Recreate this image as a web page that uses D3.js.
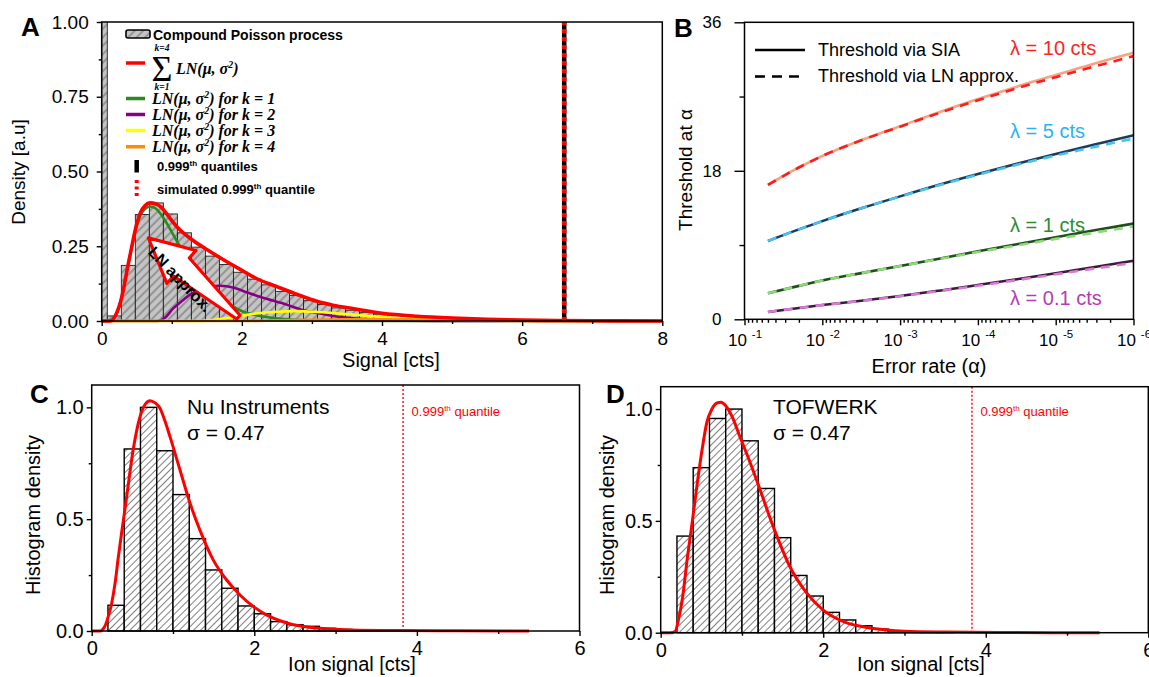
<!DOCTYPE html>
<html><head><meta charset="utf-8">
<script src="https://cdn.jsdelivr.net/npm/d3@7/dist/d3.min.js"></script>
<style>
body{margin:0;background:#fff}
svg{display:block}
</style></head><body>
<svg id="chart" width="1149" height="677"></svg>
<script>
// ================= DATA =================
// Panel A: compound Poisson histogram (bin centres, width 0.2)
const binCentersA = [-0.02,0.18,0.38,0.58,0.78,0.98,1.18,1.38,1.58,1.78,1.98,2.18,2.38,2.58,2.78,2.98,3.18,3.38,3.58,3.78,3.98,4.18,4.38,4.58,4.78,4.98,5.18,5.38,5.58,5.78,5.98,6.18,6.38];
const densityA = [1.84,0.017,0.186,0.356,0.395,0.358,0.295,0.247,0.217,0.189,0.163,0.14,0.121,0.099,0.085,0.068,0.055,0.044,0.036,0.029,0.023,0.018,0.014,0.011,0.008,0.006,0.005,0.004,0.003,0.002,0.0015,0.001,0.0008];
const binWidthA = 0.2;
const curveSumA = [[0,0],[0.12,0],[0.17,0.008],[0.22,0.03],[0.27,0.065],[0.31,0.106],[0.37,0.18],[0.43,0.25],[0.49,0.315],[0.55,0.361],[0.62,0.386],[0.69,0.395],[0.77,0.392],[0.86,0.378],[0.97,0.345],[1.09,0.311],[1.3,0.27],[1.5,0.239],[1.75,0.203],[1.98,0.172],[2.2,0.143],[2.5,0.115],[2.8,0.088],[3.07,0.066],[3.3,0.053],[3.6,0.041],[4.0,0.026],[4.5,0.016],[5.0,0.01],[5.5,0.006],[6.0,0.003],[6.5,0.0015],[7.0,0.0007],[8.0,0]];
const curveK1A = [[0,0],[0.12,0],[0.17,0.008],[0.22,0.03],[0.27,0.065],[0.31,0.105],[0.37,0.178],[0.43,0.247],[0.49,0.31],[0.55,0.352],[0.62,0.375],[0.69,0.383],[0.77,0.376],[0.86,0.352],[0.97,0.31],[1.09,0.26],[1.26,0.2],[1.45,0.135],[1.69,0.079],[1.98,0.035],[2.3,0.015],[2.7,0.005],[3.2,0.001],[4,0],[8,0]];
const curveK2A = [[0,0],[0.8,0],[0.9,0.01],[1.02,0.042],[1.15,0.068],[1.26,0.088],[1.45,0.11],[1.69,0.118],[1.9,0.11],[2.07,0.096],[2.3,0.078],[2.6,0.058],[2.88,0.036],[3.07,0.027],[3.3,0.017],[3.55,0.01],[3.9,0.004],[4.3,0.001],[4.8,0],[8,0]];
const curveK3A = [[0,0],[1.4,0],[1.6,0.004],[1.8,0.01],[2.0,0.017],[2.2,0.025],[2.5,0.031],[2.75,0.033],[3.0,0.031],[3.3,0.027],[3.6,0.021],[4.0,0.013],[4.5,0.007],[5.0,0.003],[5.5,0.001],[6,0],[8,0]];
const curveK4A = [[0,0],[2.0,0],[2.5,0.002],[3.0,0.004],[3.5,0.006],[4.0,0.006],[4.5,0.005],[5.0,0.003],[5.5,0.002],[6,0.001],[6.5,0],[8,0]];
const quantileA = 6.6;
const simQuantileA = 6.6;
const xTicksA = [0,2,4,6,8];
const yTicksA = [0,0.25,0.5,0.75,1];

// Panel B: thresholds vs error rate (alpha = 10^-1.3 ... 10^-6)
const alphaB = [0.05,0.02,0.01,0.00316,0.001,0.000316,1e-4,3.16e-5,1e-5,3.16e-6,1e-6];
const sia10 = [16.3,18.4,19.8,21.7,23.4,25.1,26.7,28.2,29.6,31.0,32.3];
const ln10  = [16.3,18.4,19.8,21.7,23.35,25.0,26.55,28.0,29.35,30.65,31.9];
const sia5  = [9.5,10.9,11.9,13.45,14.9,16.3,17.6,18.85,20.05,21.2,22.3];
const ln5   = [9.5,10.9,11.9,13.45,14.88,16.25,17.52,18.72,19.85,20.9,21.9];
const sia1  = [3.15,4.05,4.7,5.6,6.45,7.35,8.25,9.1,9.95,10.8,11.6];
const ln1   = [3.15,4.05,4.7,5.6,6.45,7.3,8.15,8.95,9.75,10.5,11.25];
const sia01 = [0.88,1.38,1.73,2.25,2.82,3.47,4.16,4.86,5.58,6.33,7.1];
const ln01  = [0.88,1.38,1.72,2.23,2.79,3.42,4.07,4.75,5.45,6.15,6.85];
const xTicksB = [1e-1,1e-2,1e-3,1e-4,1e-5,1e-6];
const yTicksB = [0,18,36];

// Panels C & D: measured ion-signal histograms (bin left edges, width 0.2)
const binWidthCD = 0.2;
const binLeftC = [0.2,0.4,0.6,0.8,1.0,1.2,1.4,1.6,1.8,2.0,2.2,2.4,2.6,2.8,3.0,3.2,3.4,3.6,3.8];
const densC = [0.115,0.814,1.0,0.806,0.61,0.413,0.273,0.191,0.112,0.077,0.042,0.028,0.021,0.012,0.007,0.004,0.003,0.002,0.001];
const curveC = [[0,0],[0.1,0],[0.16,0.02],[0.2,0.06],[0.246,0.124],[0.29,0.22],[0.328,0.332],[0.38,0.47],[0.43,0.6],[0.51,0.81],[0.594,0.958],[0.66,1.015],[0.717,1.03],[0.78,1.02],[0.84,0.996],[0.9,0.94],[0.963,0.869],[1.086,0.72],[1.21,0.571],[1.33,0.452],[1.496,0.317],[1.66,0.228],[1.824,0.161],[1.99,0.109],[2.15,0.072],[2.4,0.036],[2.77,0.013],[3.18,0.005],[3.8,0.002],[4.5,0.001],[5.38,0]];
const binLeftD = [0.2,0.4,0.6,0.8,1.0,1.2,1.4,1.6,1.8,2.0,2.2,2.4,2.6,2.8,3.0,3.2,3.4];
const densD = [0.432,0.738,0.958,1.0,0.858,0.645,0.425,0.256,0.164,0.091,0.057,0.031,0.016,0.0075,0.004,0.002,0.001];
const curveD = [[0,0],[0.12,0],[0.176,0.005],[0.22,0.06],[0.27,0.16],[0.33,0.34],[0.39,0.5],[0.45,0.668],[0.51,0.82],[0.565,0.936],[0.63,1.0],[0.7,1.028],[0.74,1.03],[0.8,1.015],[0.88,0.965],[0.975,0.876],[1.08,0.78],[1.18,0.683],[1.385,0.474],[1.59,0.295],[1.8,0.176],[2.0,0.101],[2.25,0.049],[2.62,0.019],[3.0,0.007],[3.5,0.003],[4.2,0.001],[5.4,0]];
const quantileC = 3.83;
const quantileD = 3.83;
const xTicksCD = [0,2,4,6];
const yTicksCD = [0,0.5,1.0];

// ================= DRAWING =================
const FONT = '"Liberation Sans", Arial, Helvetica, sans-serif';
const SERIF = '"Liberation Serif", "DejaVu Serif", serif';
const svg = d3.select("#chart").attr("font-family", FONT);
const defs = svg.append("defs");

function hatch(id, bg, stroke, size, sw){
  const p = defs.append("pattern").attr("id",id).attr("patternUnits","userSpaceOnUse")
    .attr("width",size).attr("height",size).attr("patternTransform","rotate(45)");
  p.append("rect").attr("width",size).attr("height",size).attr("fill",bg);
  p.append("line").attr("x1",size/2).attr("y1",0).attr("x2",size/2).attr("y2",size)
    .attr("stroke",stroke).attr("stroke-width",sw);
}
hatch("hatchA","#c4c4c4","#6e6e6e",6,1.1);
hatch("hatchC","#ffffff","#707070",5,0.9);

function styleAxis(g, ax, fs){
  g.call(ax);
  g.attr("font-family",FONT).attr("font-size",fs);
  g.select(".domain").remove();
  g.selectAll(".tick line").attr("stroke","#000").attr("stroke-width",1.4);
  g.selectAll(".tick text").attr("fill","#000");
  return g;
}
function supText(t, base, sup, rest, fs, raise){
  t.append("tspan").text(base);
  t.append("tspan").attr("dy",-raise).attr("font-size",fs*0.62).text(sup);
  t.append("tspan").attr("dy",raise).text(rest);
}
function frame(g, x0, x1, y0, y1){
  g.append("rect").attr("x",x0).attr("y",y1).attr("width",x1-x0).attr("height",y0-y1)
    .attr("fill","none").attr("stroke","#000").attr("stroke-width",1.5);
}
function panelLabel(txt, x, y){
  svg.append("text").attr("x",x).attr("y",y).attr("font-size",26).attr("font-weight","bold").text(txt);
}

// ---------- Panel A ----------
const xA = d3.scaleLinear().domain([0,8]).range([101.7,662.3]);
const yA = d3.scaleLinear().domain([0,1]).range([321,22]);
const gA = svg.append("g");
defs.append("clipPath").attr("id","clipA").append("rect")
  .attr("x",xA(0)).attr("y",yA(1)).attr("width",xA(8)-xA(0)).attr("height",yA(0)-yA(1)+3);
const plotA = gA.append("g").attr("clip-path","url(#clipA)");
plotA.selectAll("rect.bar").data(binCentersA.map((c,i)=>({c, v:densityA[i]}))).join("rect")
  .attr("class","bar")
  .attr("x", d=>xA(Math.max(d.c-binWidthA/2,0)))
  .attr("width", d=>xA(d.c+binWidthA/2)-xA(Math.max(d.c-binWidthA/2,0)))
  .attr("y", d=>yA(d.v)).attr("height", d=>yA(0)-yA(d.v))
  .attr("fill","url(#hatchA)").attr("stroke","#222").attr("stroke-width",0.9);
const lineA = d3.line().x(d=>xA(d[0])).y(d=>yA(d[1])).curve(d3.curveMonotoneX);
[[curveK1A,"#2b8a1e",2.6],[curveK2A,"#850085",2.6],[curveK3A,"#ffff00",2.6],[curveK4A,"#ff8c00",2.6],[curveSumA,"#ff0000",3.6]]
  .forEach(([d,c,w])=>plotA.append("path").datum(d).attr("d",lineA).attr("fill","none").attr("stroke",c).attr("stroke-width",w));
plotA.append("line").attr("x1",xA(quantileA)).attr("x2",xA(quantileA)).attr("y1",yA(0)).attr("y2",yA(1))
  .attr("stroke","#000").attr("stroke-width",4.5);
plotA.append("line").attr("x1",xA(simQuantileA)).attr("x2",xA(simQuantileA)).attr("y1",yA(0)).attr("y2",yA(1))
  .attr("stroke","#ff0000").attr("stroke-width",4.5).attr("stroke-dasharray","4,4");

// LN approx arrow (anchored in data space)
const arrowTipA = [0.666,0.278], arrowTailA = [1.95,0.013], arrowTextA = [1.12,0.14];
(function(){
  const T=[xA(arrowTipA[0]),yA(arrowTipA[1])], L=[xA(arrowTailA[0]),yA(arrowTailA[1])];
  const dx=T[0]-L[0], dy=T[1]-L[1], len=Math.hypot(dx,dy);
  const u=[dx/len,dy/len], n=[-u[1],u[0]];
  const h=44, w=22, s0=12, s1=2.5;
  const B=[T[0]-u[0]*h, T[1]-u[1]*h];
  const P=(p,k)=>[p[0]+n[0]*k, p[1]+n[1]*k];
  const pts=[T,P(B,w),P(B,s0),P(L,s1),P(L,-s1),P(B,-s0),P(B,-w)];
  gA.append("polygon").attr("points",pts.map(p=>p.join(",")).join(" "))
    .attr("fill","#fff").attr("stroke","#ff0000").attr("stroke-width",3.2).attr("stroke-linejoin","round");
  gA.append("text").attr("transform",`translate(${xA(arrowTextA[0])},${yA(arrowTextA[1])}) rotate(46)`)
    .attr("text-anchor","middle").attr("dy","0.35em").attr("font-size",16).attr("font-weight","bold").text("LN approx.");
})();

frame(gA, xA(0), xA(8), yA(0), yA(1));
styleAxis(gA.append("g").attr("transform",`translate(0,${yA(0)})`), d3.axisBottom(xA).tickValues([1,3,5,7]).tickSize(3).tickFormat(""), 19);
styleAxis(gA.append("g").attr("transform",`translate(0,${yA(0)})`), d3.axisBottom(xA).tickValues(xTicksA).tickSize(5).tickPadding(6).tickFormat(d3.format("d")), 19);
styleAxis(gA.append("g").attr("transform",`translate(${xA(0)},0)`), d3.axisLeft(yA).tickValues([0.125,0.375,0.625,0.875]).tickSize(3).tickFormat(""), 19);
styleAxis(gA.append("g").attr("transform",`translate(${xA(0)},0)`), d3.axisLeft(yA).tickValues(yTicksA).tickSize(5).tickPadding(8).tickFormat(d3.format(".2f")), 19);
gA.append("text").attr("transform","translate(25,172) rotate(-90)").attr("text-anchor","middle").attr("font-size",19).text("Density [a.u]");
gA.append("text").attr("x",391).attr("y",367).attr("text-anchor","middle").attr("font-size",20).text("Signal [cts]");
panelLabel("A",21,36);

// Legend A
const legA = gA.append("g");
legA.append("rect").attr("x",126).attr("y",30).attr("width",24).attr("height",8).attr("rx",2)
  .attr("fill","url(#hatchA)").attr("stroke","#000").attr("stroke-width",1.6);
legA.append("text").attr("x",153).attr("y",39.5).attr("font-size",14).attr("font-weight","bold").text("Compound Poisson process");
legA.append("line").attr("x1",126).attr("x2",145).attr("y1",63).attr("y2",63).attr("stroke","#ff0000").attr("stroke-width",3.5);
legA.append("text").attr("x",162).attr("y",81).attr("text-anchor","middle").attr("font-family",SERIF).attr("font-size",36).text("\u03A3");
legA.append("text").attr("x",162).attr("y",50.5).attr("text-anchor","middle").attr("font-family",SERIF).attr("font-size",9.5).attr("font-style","italic").attr("font-weight","bold").text("k=4");
legA.append("text").attr("x",162).attr("y",90).attr("text-anchor","middle").attr("font-family",SERIF).attr("font-size",9.5).attr("font-style","italic").attr("font-weight","bold").text("k=1");
function lnText(x,y,suffix){
  const t = legA.append("text").attr("x",x).attr("y",y).attr("font-family",SERIF).attr("font-size",16)
    .attr("font-style","italic").attr("font-weight","bold");
  supText(t,"LN(\u03BC, \u03C3","2",")"+suffix,16,6);
}
lnText(176,73.5,"");
const legLines = [["#2b8a1e",98.5," for k = 1"],["#850085",114.5," for k = 2"],["#ffff00",130.5," for k = 3"],["#ff8c00",146.7," for k = 4"]];
legLines.forEach(([c,y,s])=>{
  legA.append("line").attr("x1",126).attr("x2",145).attr("y1",y).attr("y2",y).attr("stroke",c).attr("stroke-width",3.5);
  lnText(152,y+5,s);
});
legA.append("line").attr("x1",136.7).attr("x2",136.7).attr("y1",160).attr("y2",172.5).attr("stroke","#000").attr("stroke-width",4.5);
supText(legA.append("text").attr("x",157).attr("y",170.5).attr("font-size",13).attr("font-weight","bold"),"0.999","th"," quantiles",13,5);
legA.append("line").attr("x1",136.7).attr("x2",136.7).attr("y1",180).attr("y2",196).attr("stroke","#ff0000").attr("stroke-width",4).attr("stroke-dasharray","3,3.5");
supText(legA.append("text").attr("x",157).attr("y",193.5).attr("font-size",13).attr("font-weight","bold"),"simulated 0.999","th"," quantile",13,5);

// ---------- Panel B ----------
const xB = d3.scaleLog().domain([1e-1,1e-6]).range([744.5,1133.5]);
const yB = d3.scaleLinear().domain([0,36]).range([319.3,22.3]);
const gB = svg.append("g");
const lineB = d3.line().x((d,i)=>xB(alphaB[i])).y(d=>yB(d)).curve(d3.curveMonotoneX);
const seriesB = [
  {sia:sia10, ln:ln10, solid:"#f7a283", dash:"#ff1c1c", label:"\u03BB = 10 cts", lc:"#ff2424", ly:55},
  {sia:sia5,  ln:ln5,  solid:"#1e3c5a", dash:"#45c2f0", label:"\u03BB = 5 cts",  lc:"#2cb4ea", ly:138},
  {sia:sia1,  ln:ln1,  solid:"#1f4f1f", dash:"#8fd878", label:"\u03BB = 1 cts",  lc:"#2e8b2e", ly:231.5},
  {sia:sia01, ln:ln01, solid:"#3c1a3a", dash:"#d67ad6", label:"\u03BB = 0.1 cts",lc:"#b43cb4", ly:305}
];
seriesB.forEach(s=>{
  gB.append("path").datum(s.sia).attr("d",lineB).attr("fill","none").attr("stroke",s.solid).attr("stroke-width",2.6);
  gB.append("path").datum(s.ln).attr("d",lineB).attr("fill","none").attr("stroke",s.dash).attr("stroke-width",2.6).attr("stroke-dasharray","9,7");
  gB.append("text").attr("x",1010).attr("y",s.ly).attr("font-size",20).attr("fill",s.lc).text(s.label);
});
frame(gB, xB(1e-1), xB(1e-6), yB(0), yB(36));
const minorB = [];
[-2,-3,-4,-5,-6].forEach(k=>{ for(let m=2;m<=9;m++) minorB.push(m*Math.pow(10,k)); });
styleAxis(gB.append("g").attr("transform",`translate(0,${yB(0)})`), d3.axisBottom(xB).tickValues(minorB).tickSize(3.5).tickFormat(""), 17);
const gBx = styleAxis(gB.append("g").attr("transform",`translate(0,${yB(0)})`), d3.axisBottom(xB).tickValues(xTicksB).tickSize(6).tickPadding(9).tickFormat(""), 17);
gBx.selectAll(".tick text").each(function(d){
  const t=d3.select(this);
  t.append("tspan").text("10");
  t.append("tspan").attr("dx",5).attr("dy",-8).attr("font-size",11.5).text(Math.round(Math.log10(d)));
});
styleAxis(gB.append("g").attr("transform",`translate(${xB(1e-1)},0)`), d3.axisLeft(yB).tickValues([9,27]).tickSize(5).tickFormat(""), 17);
styleAxis(gB.append("g").attr("transform",`translate(${xB(1e-1)},0)`), d3.axisLeft(yB).tickValues(yTicksB).tickSize(10).tickPadding(13).tickFormat(d3.format("d")), 17);
gB.append("text").attr("transform","translate(692,170) rotate(-90)").attr("text-anchor","middle").attr("font-size",19).text("Threshold at \u03B1");
gB.append("text").attr("x",929).attr("y",373).attr("text-anchor","middle").attr("font-size",20).text("Error rate (\u03B1)");
gB.append("line").attr("x1",755).attr("x2",805).attr("y1",50).attr("y2",50).attr("stroke","#000").attr("stroke-width",2.6);
gB.append("line").attr("x1",755).attr("x2",805).attr("y1",76.5).attr("y2",76.5).attr("stroke","#000").attr("stroke-width",2.6).attr("stroke-dasharray","10,7");
gB.append("text").attr("x",818).attr("y",56).attr("font-size",18).text("Threshold via SIA");
gB.append("text").attr("x",818).attr("y",82).attr("font-size",18).text("Threshold via LN approx.");
panelLabel("B",674,37);

// ---------- Panels C & D ----------
function histPanel(cfg){
  const x = d3.scaleLinear().domain([0,6]).range(cfg.xr);
  const y = d3.scaleLinear().domain([0,1.1]).range(cfg.yr);
  const g = svg.append("g");
  g.selectAll("rect.bar").data(cfg.left.map((l,i)=>({l, v:cfg.vals[i]}))).join("rect")
    .attr("class","bar")
    .attr("x",d=>x(d.l)).attr("width",d=>x(d.l+binWidthCD)-x(d.l))
    .attr("y",d=>y(d.v)).attr("height",d=>y(0)-y(d.v))
    .attr("fill","url(#hatchC)").attr("stroke","#000").attr("stroke-width",1.4);
  g.append("line").attr("x1",x(cfg.q)).attr("x2",x(cfg.q)).attr("y1",y(0)).attr("y2",y(1.1))
    .attr("stroke","#ff0000").attr("stroke-width",1.4).attr("stroke-dasharray","2,2");
  g.append("path").datum(cfg.curve)
    .attr("d", d3.line().x(d=>x(d[0])).y(d=>y(d[1])).curve(d3.curveMonotoneX))
    .attr("fill","none").attr("stroke","#ff0000").attr("stroke-width",3);
  frame(g, x(0), x(6), y(0), y(1.1));
  styleAxis(g.append("g").attr("transform",`translate(0,${y(0)})`), d3.axisBottom(x).tickValues([1,3,5]).tickSize(3).tickFormat(""), 20);
  styleAxis(g.append("g").attr("transform",`translate(0,${y(0)})`), d3.axisBottom(x).tickValues(xTicksCD).tickSize(5).tickPadding(5).tickFormat(d3.format("d")), 20);
  styleAxis(g.append("g").attr("transform",`translate(${x(0)},0)`), d3.axisLeft(y).tickValues([0.25,0.75]).tickSize(3).tickFormat(""), 20);
  styleAxis(g.append("g").attr("transform",`translate(${x(0)},0)`), d3.axisLeft(y).tickValues(yTicksCD).tickSize(5).tickPadding(3).tickFormat(d3.format(".1f")), 20);
  g.append("text").attr("transform",`translate(${cfg.ytx},515) rotate(-90)`).attr("text-anchor","middle").attr("font-size",20).text("Histogram density");
  g.append("text").attr("x",cfg.xtx).attr("y",671).attr("text-anchor","middle").attr("font-size",20).text("Ion signal [cts]");
  g.append("text").attr("x",cfg.tx).attr("y",414).attr("font-size",21).text(cfg.name);
  g.append("text").attr("x",cfg.tx).attr("y",440).attr("font-size",21).text("\u03C3 = 0.47");
  supText(g.append("text").attr("x",x(cfg.q)+8.5).attr("y",416).attr("font-size",13).attr("fill","#ff0000"),"0.999","th"," quantile",13,5);
  panelLabel(cfg.label, cfg.lx, 403);
}
histPanel({xr:[91.7,579.5], yr:[631,385], left:binLeftC, vals:densC, curve:curveC, q:quantileC,
  name:"Nu Instruments", tx:187, ytx:40, xtx:352, label:"C", lx:30});
histPanel({xr:[660.7,1148.3], yr:[632.7,386.7], left:binLeftD, vals:densD, curve:curveD, q:quantileD,
  name:"TOFWERK", tx:773, ytx:614, xtx:921, label:"D", lx:606});
</script>
</body></html>
